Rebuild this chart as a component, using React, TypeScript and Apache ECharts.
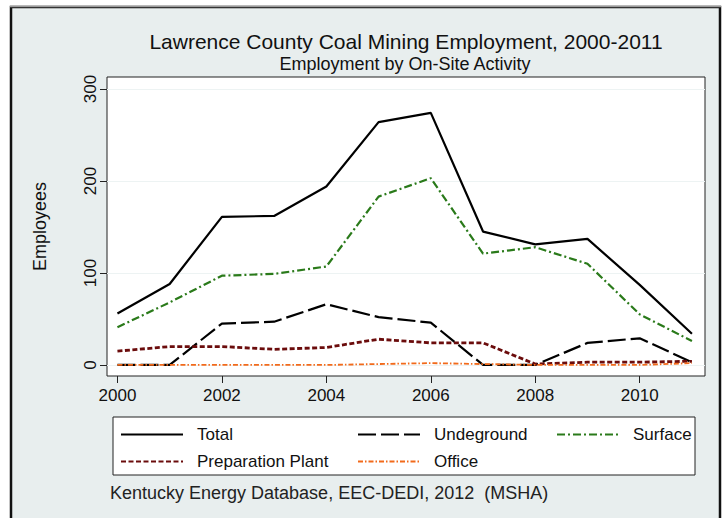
import React, { useEffect, useRef } from 'react';
import * as echarts from 'echarts';

const years = [2000, 2001, 2002, 2003, 2004, 2005, 2006, 2007, 2008, 2009, 2010, 2011];
const total = [56, 88, 161, 162, 194, 264, 274, 145, 131, 137, 87, 34];
const underground = [0, 0, 45, 47, 66, 52, 46, 0, 0, 24, 29, 3];
const surface = [41, 68, 97, 99, 107, 183, 203, 121, 128, 110, 55, 26];
const prep = [15, 20, 20, 17, 19, 28, 24, 24, 1, 3, 3, 4];
const office = [0, 0, 0, 0, 0, 1, 2, 1, 0, 0, 0, 2];

const xTicks = [2000, 2002, 2004, 2006, 2008, 2010];
const yTicks = [0, 100, 200, 300];

const titleText = 'Lawrence County Coal Mining Employment, 2000-2011';
const subtitleText = 'Employment by On-Site Activity';
const sourceText = 'Kentucky Energy Database, EEC-DEDI, 2012  (MSHA)';
const yName = 'Employees';

const FONT = '"Liberation Sans", Arial, Helvetica, sans-serif';

export default function App() {
  const ref = useRef<HTMLDivElement>(null);
  useEffect(() => {
    const chart = echarts.init(ref.current!, null, { renderer: 'svg' });
    const pts = (arr: number[]) => years.map((y, i) => [y, arr[i]]);
    const defs = [
      { name: 'Total', data: total, color: '#000000', width: 2.2, type: 'solid' as any },
      { name: 'Undeground', data: underground, color: '#000000', width: 2.2, type: [18, 5] },
      { name: 'Surface', data: surface, color: '#2a7a1a', width: 2.2, type: [8, 3, 2, 3] },
      { name: 'Preparation Plant', data: prep, color: '#6b0c0c', width: 2.8, type: [5, 2.5] },
      { name: 'Office', data: office, color: '#f26a1b', width: 1.8, type: [5, 2, 1.5, 2] },
    ];
    const legendPos = [
      { left: 120, top: 426 },
      { left: 357, top: 426 },
      { left: 556, top: 426 },
      { left: 120, top: 453 },
      { left: 357, top: 453 },
    ];
    const option: any = {
      animation: false,
      backgroundColor: 'transparent',
      grid: {
        left: 107, top: 77, right: 21, bottom: 142,
        show: true, backgroundColor: '#ffffff', borderColor: '#222', borderWidth: 1,
      },
      xAxis: {
        type: 'value', min: 1999.8, max: 2011.25,
        axisLine: { show: false, onZero: false },
        axisTick: { show: true, length: 7, lineStyle: { color: '#222', width: 1 }, customValues: xTicks },
        axisLabel: { customValues: xTicks, formatter: (v: number) => String(v), fontSize: 17, color: '#111', fontFamily: FONT, margin: 11 },
        splitLine: { show: false },
      },
      yAxis: {
        type: 'value', min: -12, max: 313,
        name: yName, nameLocation: 'middle', nameRotate: 90, nameGap: 58,
        nameTextStyle: { fontSize: 18, color: '#111', fontFamily: FONT },
        axisLine: { show: false, onZero: false },
        axisTick: { show: true, length: 7, lineStyle: { color: '#222', width: 1 }, customValues: yTicks },
        axisLabel: { customValues: yTicks, formatter: (v: number) => String(v), rotate: 90, fontSize: 17, color: '#111', fontFamily: FONT, margin: 8 },
        splitLine: { show: true, lineStyle: { color: '#edf3f3', width: 1 } },
      },
      legend: defs.map((d, i) => ({
        data: [d.name],
        left: legendPos[i].left, top: legendPos[i].top,
        padding: 0, itemWidth: 62, itemHeight: 14, selectedMode: false,
        itemStyle: { opacity: 0, borderWidth: 0 },
        textStyle: { fontSize: 17, color: '#111', fontFamily: FONT, padding: [0, 0, 0, 9] },
      })),
      graphic: [
        { type: 'rect', z: -10, shape: { x: 11, y: 7, width: 709, height: 540 }, style: { fill: '#e8eeee', stroke: '#111', lineWidth: 2.5 } },
        { type: 'line', z: -9, shape: { x1: 10, y1: 6.5, x2: 721, y2: 6.5 }, style: { stroke: '#9a9a9a', lineWidth: 1.5 } },
        { type: 'rect', z: 1, shape: { x: 113, y: 417, width: 582, height: 58 }, style: { fill: '#ffffff', stroke: '#222', lineWidth: 1 } },
        { type: 'text', z: 5, x: 406, y: 41, style: { text: titleText, fontSize: 21, fontFamily: FONT, fill: '#111', textAlign: 'center', textVerticalAlign: 'middle' } },
        { type: 'text', z: 5, x: 405, y: 64, style: { text: subtitleText, fontSize: 18, fontFamily: FONT, fill: '#111', textAlign: 'center', textVerticalAlign: 'middle' } },
        { type: 'text', z: 5, x: 110, y: 493, style: { text: sourceText, fontSize: 18, fontFamily: FONT, fill: '#222', textAlign: 'left', textVerticalAlign: 'middle' } },
      ],
      series: defs.map((d) => ({
        name: d.name, type: 'line', data: pts(d.data), symbol: 'none', showSymbol: false,
        color: d.color,
        lineStyle: { color: d.color, width: d.width, type: d.type },
      })),
    };
    chart.setOption(option);
    return () => chart.dispose();
  }, []);
  return <div ref={ref} style={{ position: 'fixed', left: 0, top: 0, width: 726, height: 518, background: '#ffffff' }} />;
}
